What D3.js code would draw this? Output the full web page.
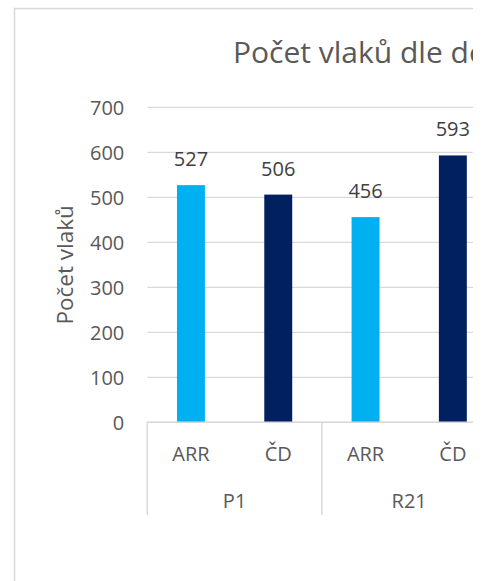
<!DOCTYPE html>
<html>
<head>
<meta charset="utf-8">
<script src="https://cdn.jsdelivr.net/npm/d3@7"></script>
<style>
  body { margin: 0; background: #fff; }
  svg { display: block; }
  text { font-family: "Open Sans", sans-serif; }
</style>
</head>
<body>
<div id="chart"></div>
<script>
var groups = ["P1", "R21"];
var carriers = ["ARR", "ČD"];
var arrValues = [527, 456];
var cdValues = [506, 593];
var yTicks = [0, 100, 200, 300, 400, 500, 600, 700];
var colors = ["#00B0F0", "#002060"];

const w = 473;
const h = 581;
const plotLeft = 147.3;
const plotTop = 107.3;
const plotBottom = 422.3;
const groupWidth = 174.6;

var rows = [];
groups.forEach((g, i) => {
    rows.push({ group: g, carrier: carriers[0], value: arrValues[i] });
    rows.push({ group: g, carrier: carriers[1], value: cdValues[i] });
});

const svg = d3.select("#chart")
    .append("svg")
    .attr("width", w)
    .attr("height", h);

// chart border (cut off at right and bottom)
svg.append("rect")
    .attr("x", 14.5)
    .attr("y", 8.5)
    .attr("width", 900)
    .attr("height", 900)
    .attr("fill", "none")
    .attr("stroke", "#d9d9d9")
    .attr("stroke-width", 1.5);

svg.append("text")
    .attr("x", 233)
    .attr("y", 63)
    .attr("fill", "#595959")
    .attr("font-size", 30)
    .text("Počet vlaků dle dopravce");

const xGroup = d3.scaleBand()
    .domain(groups)
    .range([plotLeft, plotLeft + groupWidth * groups.length]);

const xInner = d3.scaleBand()
    .domain(carriers)
    .range([0, xGroup.bandwidth()])
    .paddingInner(0.68)
    .paddingOuter(0.34);

const yScale = d3.scaleLinear()
    .domain([0, 700])
    .range([plotBottom, plotTop]);

// gridlines
svg.append("g")
    .selectAll("line")
    .data(yTicks)
    .enter()
    .append("line")
    .attr("x1", plotLeft)
    .attr("x2", w + 50)
    .attr("y1", (d) => yScale(d))
    .attr("y2", (d) => yScale(d))
    .attr("stroke", "#d9d9d9")
    .attr("stroke-width", 1.3);

// y labels
const yAxis = d3.axisLeft(yScale).tickValues(yTicks).tickSize(0).tickPadding(23);
svg.append("g")
    .attr("transform", "translate(" + plotLeft + ",0)")
    .call(yAxis)
    .call((g) => g.select(".domain").remove())
    .call((g) => g.selectAll("text")
        .attr("fill", "#595959")
        .attr("font-size", 20)
        .attr("font-family", null)
        .attr("dy", "0.38em"));

svg.append("text")
    .attr("transform", "translate(73," + ((plotTop + plotBottom) / 2) + ") rotate(-90)")
    .attr("text-anchor", "middle")
    .attr("fill", "#595959")
    .attr("font-size", 22.5)
    .text("Počet vlaků");

// bars
svg.append("g")
    .selectAll("rect")
    .data(rows)
    .enter()
    .append("rect")
    .attr("x", (d) => xGroup(d.group) + xInner(d.carrier))
    .attr("y", (d) => yScale(d.value))
    .attr("width", xInner.bandwidth())
    .attr("height", (d) => plotBottom - yScale(d.value))
    .attr("fill", (d) => colors[carriers.indexOf(d.carrier)]);

// value labels
svg.append("g")
    .selectAll("text")
    .data(rows)
    .enter()
    .append("text")
    .attr("x", (d) => xGroup(d.group) + xInner(d.carrier) + xInner.bandwidth() / 2)
    .attr("y", (d) => yScale(d.value) - 19)
    .attr("text-anchor", "middle")
    .attr("fill", "#404040")
    .attr("font-size", 20)
    .text((d) => d.value);

// category axis line and separators
svg.append("line")
    .attr("x1", plotLeft)
    .attr("x2", w + 50)
    .attr("y1", plotBottom)
    .attr("y2", plotBottom)
    .attr("stroke", "#d9d9d9")
    .attr("stroke-width", 1.5);

var seps = groups.map((g) => xGroup(g)).concat([xGroup.range()[1]]);
svg.append("g")
    .selectAll("line")
    .data(seps)
    .enter()
    .append("line")
    .attr("x1", (d) => d)
    .attr("x2", (d) => d)
    .attr("y1", plotBottom)
    .attr("y2", 515)
    .attr("stroke", "#d9d9d9")
    .attr("stroke-width", 1.5);

// carrier labels
svg.append("g")
    .selectAll("text")
    .data(rows)
    .enter()
    .append("text")
    .attr("x", (d) => xGroup(d.group) + xInner(d.carrier) + xInner.bandwidth() / 2)
    .attr("y", 461)
    .attr("text-anchor", "middle")
    .attr("fill", "#595959")
    .attr("font-size", 20)
    .text((d) => d.carrier);

// group labels
svg.append("g")
    .selectAll("text")
    .data(groups)
    .enter()
    .append("text")
    .attr("x", (d) => xGroup(d) + xGroup.bandwidth() / 2)
    .attr("y", 508)
    .attr("text-anchor", "middle")
    .attr("fill", "#595959")
    .attr("font-size", 20)
    .text((d) => d);
</script>
</body>
</html>
